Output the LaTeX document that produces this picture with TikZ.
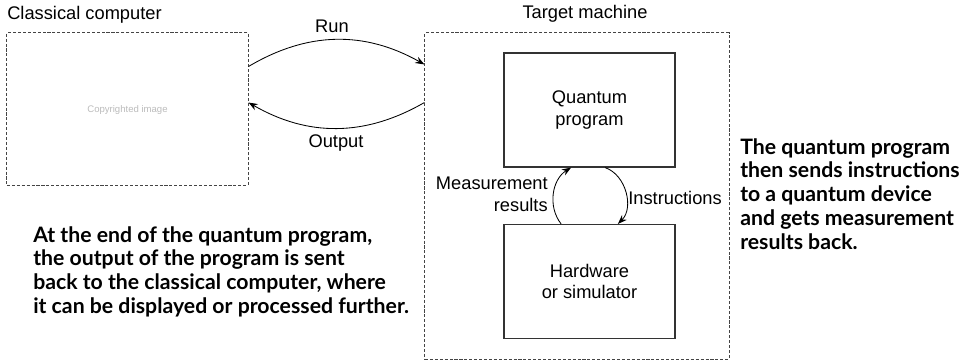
\documentclass[tikz,border=0pt]{standalone}
\usepackage{fontspec}
\setmainfont{Liberation Sans}
\newfontfamily\notefont{Lato}
\usetikzlibrary{arrows.meta, positioning}
\definecolor{DashGray}{HTML}{444444}
\definecolor{BoxGray}{HTML}{333333}
\definecolor{StampGray}{HTML}{BBBBBB}
\tikzset{
    % Box styles - sharp corners
    hostbox/.style={
        rectangle,
        draw=DashGray,
        dash pattern=on 2.2pt off 1.3pt,
        line width=0.7pt,
        inner sep=0pt
    },
    progbox/.style={
        rectangle,
        draw=BoxGray,
        line width=0.8pt,
        minimum width=4.275cm,
        minimum height=2.85cm,
        align=center,
        font=\fontsize{13}{15.5}\selectfont
    },
    % Text styles
    tag/.style={
        inner sep=0pt,
        font=\fontsize{13}{15.5}\selectfont
    },
    note/.style={
        inner sep=0pt,
        align=left,
        font=\notefont\bfseries\fontsize{15.1}{16.9}\selectfont
    },
    % Arrow styles
    flow/.style={
        -{Stealth[length=2.3mm, width=1.7mm]},
        line width=0.6pt,
        draw=black
    }
}

\begin{document}
\begin{tikzpicture}[x=0.025cm, y=-0.025cm]
    \useasboundingbox (0,0) rectangle (963,360);

    % Classical computer
    \node[hostbox, minimum width=6.025cm, minimum height=3.8cm] (classical) at (127.5,109) {};
    \node[tag, anchor=base west] (classicaltag) at (7,19.5) {Classical computer};
    \node[inner sep=0pt, text=StampGray, font=\fontsize{6.8}{8}\selectfont] (stamp) at (127.5,110) {Copyrighted image};

    % Target machine
    \node[hostbox, minimum width=7.6cm, minimum height=8.15cm] (target) at (577,196) {};
    \node[tag, anchor=base] (targettag) at (585,19) {Target machine};
    \node[progbox] (qprog) at (589.5,110) {Quantum\\program};
    \node[progbox] (hw) at (589.5,281.5) {Hardware\\or simulator};

    % Run / output
    \draw[flow] ([yshift=-0.85cm]classical.north east) to[bend left=30] ([yshift=-0.8cm]target.north west);
    \draw[flow] ([yshift=-1.75cm]target.north west) to[bend left=30] ([yshift=-1.75cm]classical.north east);
    \node[tag, anchor=base] (runtag) at (332,33) {Run};
    \node[tag, anchor=base] (outtag) at (336,148) {Output};

    % Inner loop
    \draw[flow] ([xshift=-0.71cm]hw.north) to[bend left=48] ([xshift=-0.46cm]qprog.south);
    \draw[flow] ([xshift=0.39cm]qprog.south) to[bend left=58] ([xshift=0.71cm]hw.north);
    \node[tag, align=right, anchor=east] (meastag) at (548,194.5) {Measurement\\results};
    \node[tag, anchor=base west] (insttag) at (628,205) {Instructions};

    % Notes
    \node[note, anchor=north west] (leftnote) at (33,226) {At the end of the quantum program,\\the output of the program is sent\\back to the classical computer, where\\it can be displayed or processed further.};
    \node[note, anchor=north west] (rightnote) at (740,138) {The quantum program\\then sends instructions\\to a quantum device\\and gets measurement\\results back.};
\end{tikzpicture}
\end{document}
